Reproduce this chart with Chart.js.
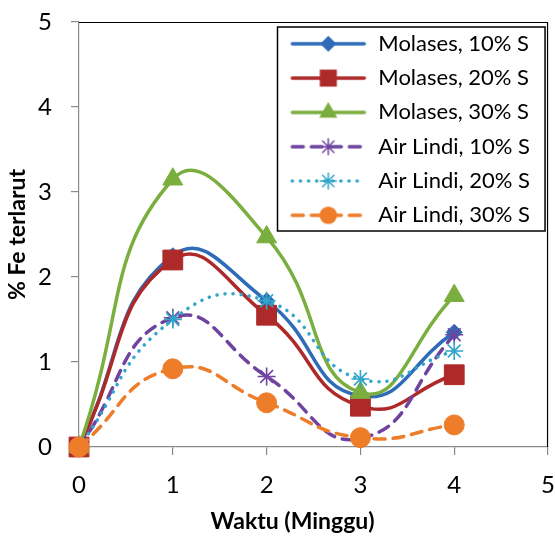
<!DOCTYPE html>
<html>
<head>
<meta charset="utf-8">
<script src="https://cdn.jsdelivr.net/npm/chart.js@4.4.1/dist/chart.umd.min.js"></script>
<style>
  html, body { margin: 0; padding: 0; background: #fff; }
  #wrap { width: 555px; height: 543px; }
</style>
</head>
<body>
<div id="wrap"><canvas id="c" width="555" height="543"></canvas></div>
<script>
// ---- data ----
const weeks = [0, 1, 2, 3, 4];
const seriesNames = ['Molases, 10% S', 'Molases, 20% S', 'Molases, 30% S',
                     'Air Lindi, 10% S', 'Air Lindi, 20% S', 'Air Lindi, 30% S'];
const molases10 = [0, 2.25, 1.72, 0.60, 1.35];
const molases20 = [0, 2.20, 1.55, 0.48, 0.85];
const molases30 = [0, 3.15, 2.47, 0.64, 1.78];
const lindi10   = [0, 1.52, 0.83, 0.10, 1.32];
const lindi20   = [0, 1.50, 1.72, 0.80, 1.13];
const lindi30   = [0, 0.92, 0.52, 0.11, 0.26];
const xTicks = [0, 1, 2, 3, 4, 5];
const yTicks = [0, 1, 2, 3, 4, 5];
const xTitle = 'Waktu (Minggu)';
const yTitle = '% Fe terlarut';

// ---- styles ----
const styles = [
  { color: '#2E6CB8', dash: [],      cap: 'round', point: 'rectRot',  r: 8,   lr: 7,  bw: 3.5 },
  { color: '#AE2A2A', dash: [],      cap: 'round', point: 'rect',     r: 14,  lr: 11, bw: 3.5 },
  { color: '#7AAE3E', dash: [],      cap: 'round', point: 'triangle', r: 11.5,lr: 9,  bw: 3.5 },
  { color: '#6E44A0', dash: [11, 8], cap: 'round', point: 'star',     r: 9,   lr: 8,  bw: 3.5 },
  { color: '#31A6C9', dash: [0.1, 8],cap: 'round', point: 'star',     r: 9,   lr: 8,  bw: 3.5 },
  { color: '#EE7D2A', dash: [11, 8], cap: 'round', point: 'circle',   r: 10,  lr: 8,  bw: 3.5 }
];
const values = [molases10, molases20, molases30, lindi10, lindi20, lindi30];

function makeSample(st) {
  const c = document.createElement('canvas');
  c.width = 78; c.height = 26;
  const g = c.getContext('2d');
  g.strokeStyle = st.color; g.lineWidth = st.bw; g.lineCap = st.cap;
  g.setLineDash(st.dash);
  g.beginPath(); g.moveTo(3, 13); g.lineTo(75, 13); g.stroke();
  g.setLineDash([]);
  g.fillStyle = st.color; g.strokeStyle = st.color; g.lineWidth = 1.5;
  Chart.helpers.drawPoint(g, { pointStyle: st.point, radius: st.lr, rotation: 0, borderWidth: 1.5 }, 39, 13);
  return c;
}

const frameAndLegendBox = {
  id: 'frameAndLegendBox',
  afterLayout(chart) {
    const ca = chart.chartArea;
    const lg = chart.legend;
    if (lg) {
      const w = lg.width;
      lg.left = 277; lg.right = lg.left + w;
      lg.top = ca.top - 1.5; lg.bottom = lg.top + 240;
    }
    const tb = chart.titleBlock;
    if (tb) { tb.left += 15; tb.right += 15; }
  },
  afterDraw(chart) {
    const ctx = chart.ctx, ca = chart.chartArea;
    ctx.save();
    ctx.strokeStyle = '#000';
    ctx.lineWidth = 1.2;
    ctx.beginPath();
    ctx.moveTo(ca.left, ca.top + 0.5);
    ctx.lineTo(ca.right - 0.5, ca.top + 0.5);
    ctx.lineTo(ca.right - 0.5, ca.bottom);
    ctx.stroke();
    ctx.lineWidth = 1.5;
    ctx.strokeRect(277.5, ca.top + 5, ca.right - 3 - 277.5, 204);
    ctx.restore();
  }
};

function build() {
  const samples = styles.map(makeSample);
  const datasets = values.map((arr, i) => ({
    label: seriesNames[i],
    data: weeks.map((w, k) => ({ x: w, y: arr[k] })),
    borderColor: styles[i].color,
    backgroundColor: styles[i].color,
    borderWidth: styles[i].bw,
    borderDash: styles[i].dash,
    borderCapStyle: styles[i].cap,
    pointStyle: styles[i].point,
    pointRadius: styles[i].r,
    pointHoverRadius: styles[i].r,
    pointBackgroundColor: styles[i].color,
    pointBorderColor: styles[i].color,
    pointBorderWidth: styles[i].point === 'star' ? 1.6 : 1,
    tension: 0.5,
    fill: false,
    clip: false,
    order: -i
  }));

  new Chart(document.getElementById('c'), {
    type: 'line',
    data: { datasets },
    plugins: [frameAndLegendBox],
    options: {
      responsive: false,
      animation: false,
      devicePixelRatio: 1,
      layout: { autoPadding: false, padding: { left: 0, top: 22, right: 0, bottom: 0 } },
      scales: {
        x: {
          type: 'linear', min: xTicks[0], max: xTicks[xTicks.length - 1],
          afterBuildTicks: (s) => { s.ticks = xTicks.map(v => ({ value: v })); },
          afterFit: (s) => { s.height = 60.4; },
          ticks: { color: '#000', padding: 0, font: { family: 'Lato', size: 24, lineHeight: 2.5 } },
          grid: { drawOnChartArea: false, drawTicks: true, tickLength: 8, color: '#8a8a8a', lineWidth: 1.2 },
          border: { display: true, color: '#8a8a8a', width: 1.2 }
        },
        y: {
          type: 'linear', min: yTicks[0], max: yTicks[yTicks.length - 1],
          afterBuildTicks: (s) => { s.ticks = yTicks.map(v => ({ value: v })); },
          afterFit: (s) => { s.width = 79; s.paddingTop = 0; s.paddingBottom = 0; },
          ticks: { color: '#000', padding: 19, font: { family: 'Lato', size: 24 } },
          grid: { drawOnChartArea: false, drawTicks: true, tickLength: 8, color: '#8a8a8a', lineWidth: 1.2 },
          border: { display: true, color: '#8a8a8a', width: 1.2 },
          title: { display: true, text: yTitle, color: '#000',
                   font: { family: 'Lato', size: 23, weight: 'bold' }, padding: { top: 4, bottom: 0 } }
        }
      },
      plugins: {
        title: {
          display: true, position: 'bottom', text: xTitle, color: '#000',
          font: { family: 'Lato', size: 23, weight: 'bold' }, padding: { top: 0, bottom: 8 }
        },
        legend: {
          display: true,
          position: 'chartArea',
          align: 'start',
          labels: {
            color: '#000',
            font: { family: 'Lato', size: 22 },
            usePointStyle: true,
            pointStyleWidth: 78,
            padding: 12.3,
            generateLabels: (chart) => chart.data.datasets.map((ds, i) => ({
              text: ds.label,
              fillStyle: ds.borderColor,
              strokeStyle: ds.borderColor,
              lineWidth: 0,
              pointStyle: samples[i],
              hidden: false,
              datasetIndex: i
            }))
          }
        },
        tooltip: { enabled: false }
      }
    }
  });
}

const fontLoads = ['22px Lato', 'bold 23px Lato', '24px Lato'].map(f => document.fonts.load(f).catch(() => null));
Promise.race([Promise.all(fontLoads), new Promise(r => setTimeout(r, 800))]).then(build);
</script>
</body>
</html>
